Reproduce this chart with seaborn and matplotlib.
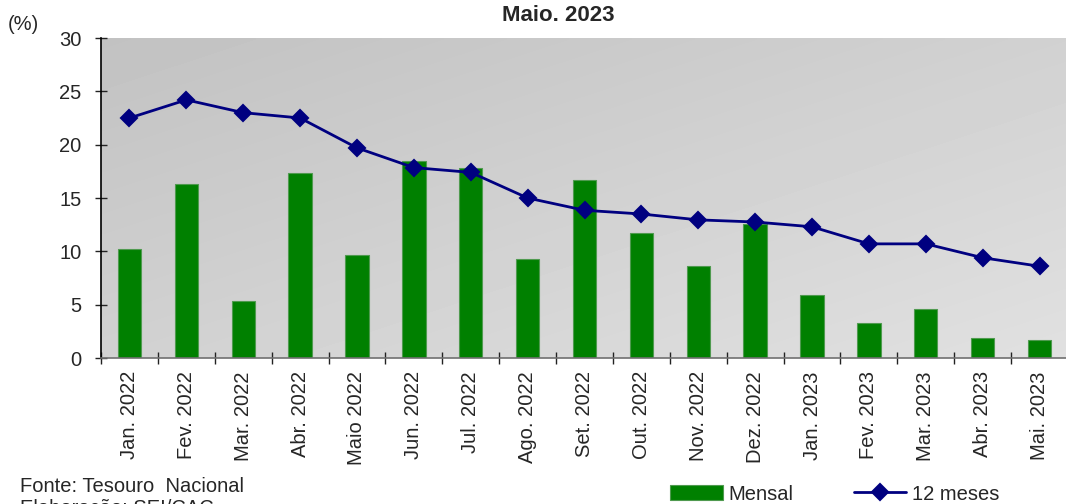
import numpy as np
import pandas as pd
import seaborn as sns
import matplotlib.pyplot as plt

# monthly and 12-month values (%)
meses = ["Jan. 2022", "Fev. 2022", "Mar. 2022", "Abr. 2022", "Maio 2022", "Jun. 2022",
         "Jul. 2022", "Ago. 2022", "Set. 2022", "Out. 2022", "Nov. 2022", "Dez. 2022",
         "Jan. 2023", "Fev. 2023", "Mar. 2023", "Abr. 2023", "Mai. 2023"]
mensal = [10.2, 16.3, 5.3, 17.3, 9.65, 18.5, 17.85, 9.3, 16.65, 11.7, 8.65, 12.55,
          5.95, 3.3, 4.55, 1.85, 1.65]
doze_meses = [22.5, 24.2, 23.0, 22.5, 19.7, 17.85, 17.4, 15.0, 13.85, 13.5, 12.95, 12.75,
              12.3, 10.7, 10.7, 9.4, 8.6]

sns.set_theme(style="white")
plt.rcParams["font.family"] = ["Liberation Sans", "DejaVu Sans"]

df = pd.DataFrame({"mes": meses, "Mensal": mensal, "12 meses": doze_meses})

fig = plt.figure(figsize=(10.66, 5.04), dpi=100)
ax = fig.add_axes([101 / 1066, 1 - 358 / 504, 967 / 1066, 320 / 504])

# gradient gray background (darker top-left, lighter bottom-right)
xx, yy = np.meshgrid(np.linspace(0, 1, 200), np.linspace(0, 1, 100))
grad = 0.76 + 0.06 * xx + 0.06 * yy
ax.imshow(grad, extent=[0, 1, 0, 1], transform=ax.transAxes, aspect="auto",
          cmap="gray", vmin=0, vmax=1, zorder=0, interpolation="bilinear")

sns.barplot(data=df, x="mes", y="Mensal", color="#008000", saturation=1, width=0.41,
            edgecolor="#4f9a4f", linewidth=0.8, label="Mensal", ax=ax, zorder=2)
sns.pointplot(data=df, x="mes", y="12 meses", color="#000080", markers="D",
              linestyles="-", errorbar=None, markersize=8, linewidth=2.0,
              label="12 meses", ax=ax)
for ln in ax.lines:
    ln.set_zorder(3)

n = len(meses)
ax.set_xlim(-0.5, n - 0.5)
ax.set_ylim(0, 30)
ax.set_yticks(range(0, 31, 5))
ax.set_xlabel("")
ax.set_ylabel("")
ax.set_xticks(range(n))
ax.set_xticklabels(meses, rotation=90, fontsize=14.5)
ax.set_xticks(np.arange(n + 1) - 0.5, minor=True)
ax.tick_params(axis="x", which="major", length=0, pad=9.5)
ax.tick_params(axis="x", which="minor", direction="inout", length=8.6, width=1,
               color="#222222", bottom=True)
ax.tick_params(axis="y", direction="inout", length=9, width=1, color="#222222",
               labelsize=14.5, pad=9.4, left=True)

for s in ["top", "right"]:
    ax.spines[s].set_visible(False)
ax.spines["left"].set_color("black")
ax.spines["left"].set_linewidth(1.2)
ax.spines["bottom"].set_color("#707070")
ax.spines["bottom"].set_linewidth(1.2)

fig.text(558 / 1066, 1 - 21 / 504, "Maio. 2023", ha="center", va="baseline",
         fontsize=16, fontweight="bold")
fig.text(8 / 1066, 1 - 30 / 504, "(%)", ha="left", va="baseline", fontsize=14.5)
fig.text(20 / 1066, 1 - 492 / 504, "Fonte: Tesouro  Nacional", ha="left",
         va="baseline", fontsize=14.5)
fig.text(20 / 1066, 1 - 514 / 504, "Elaboração: SEI/CAC", ha="left",
         va="baseline", fontsize=14.5)

handles, labels = ax.get_legend_handles_labels()
order = [labels.index("Mensal"), labels.index("12 meses")]
if ax.get_legend() is not None:
    ax.get_legend().remove()
fig.legend([handles[i] for i in order], [labels[i] for i in order], loc="center",
           bbox_to_anchor=(835 / 1066, 1 - 494 / 504), ncol=2, frameon=False,
           fontsize=14.5, handlelength=2.6, handletextpad=0.3, columnspacing=3.0,
           borderaxespad=0)

fig.savefig("out.png", dpi=100)
